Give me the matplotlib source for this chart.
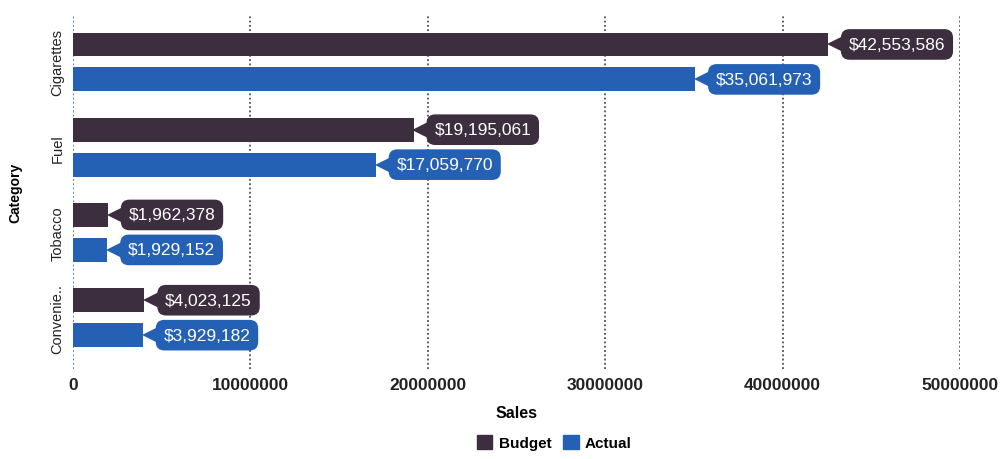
import matplotlib.pyplot as plt
import matplotlib.transforms as mtransforms
from matplotlib.patches import Patch

plt.rcParams['font.family'] = ['Liberation Sans', 'DejaVu Sans']

categories = ['Cigarettes', 'Fuel', 'Tobacco', 'Convenie..']
budget = [42553586, 19195061, 1962378, 4023125]
actual = [35061973, 17059770, 1929152, 3929182]
x_ticks = [0, 10000000, 20000000, 30000000, 40000000, 50000000]

budget_color = '#3c2e3f'
actual_color = '#2461b4'

fig = plt.figure(figsize=(10.08, 4.6), dpi=100)
ax = fig.add_axes([0.0724, 0.196, 0.88, 0.771])

pos = list(range(len(categories)))
off = 0.205
h = 0.28
ax.barh([p - off for p in pos], budget, height=h, color=budget_color, zorder=3)
ax.barh([p + off for p in pos], actual, height=h, color=actual_color, zorder=3)

# callout labels: rounded box with a small pointer on the left
shift = mtransforms.offset_copy(ax.transData, fig=fig, x=5, y=0, units='points')
for p, vals, col in ((-off, budget, budget_color), (off, actual, actual_color)):
    for i, v in enumerate(vals):
        y = i + p
        ax.plot(v, y, marker='<', markersize=11, color=col, transform=shift,
                clip_on=False, zorder=4, markeredgewidth=0)
        ax.annotate(f'${v:,}', xy=(v, y), xytext=(15, 0), textcoords='offset points',
                    ha='left', va='center', color='white', fontsize=12.5,
                    bbox=dict(boxstyle='round,pad=0.45,rounding_size=0.5', fc=col, ec='none'),
                    zorder=5, annotation_clip=False)

ax.set_xlim(0, 50000000)
ax.set_ylim(3.6, -0.56)
ax.set_xticks(x_ticks)
ax.set_xticklabels([str(t) for t in x_ticks], fontsize=12.5, fontweight='bold', color='#222222')
ax.set_yticks(pos)
ax.set_yticklabels(categories, rotation=90, va='center', fontsize=10.5, color='#222222')
ax.tick_params(length=0, pad=6)

for t in x_ticks:
    ax.axvline(t, color='#1f5fa8' if t == 0 else '#333333', linestyle=(0, (1.2, 1.6)),
               linewidth=1.1, zorder=1)

for s in ax.spines.values():
    s.set_visible(False)

ax.set_xlabel('Sales', fontsize=11.5, fontweight='bold', labelpad=9)
ax.set_ylabel('Category', fontsize=10, fontweight='bold', labelpad=20)

handles = [Patch(color=budget_color, label='Budget'), Patch(color=actual_color, label='Actual')]
fig.legend(handles=handles, loc='center', bbox_to_anchor=(0.55, 0.035), ncol=2, frameon=False,
           prop={'size': 11, 'weight': 'bold'}, handlelength=1.0, handleheight=1.0,
           handletextpad=0.4, columnspacing=0.8)

fig.savefig('out.png', dpi=100)
